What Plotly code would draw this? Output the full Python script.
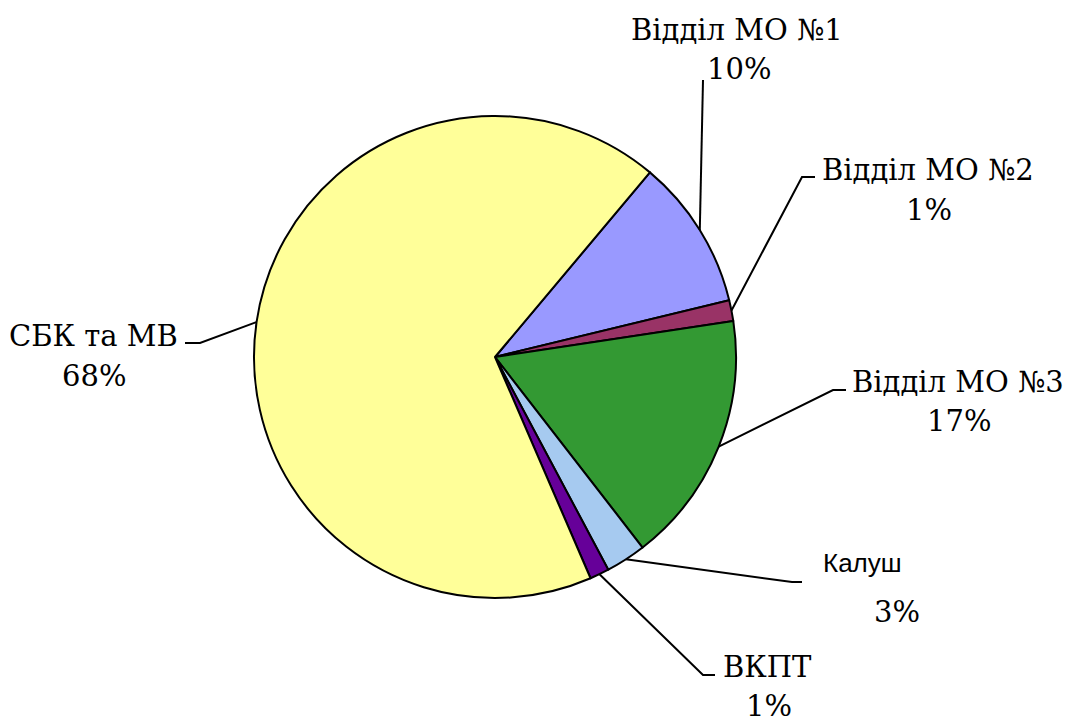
import math
import plotly.graph_objects as go

# ---- data ----
labels = ["Відділ МО №1", "Відділ МО №2", "Відділ МО №3", "Калуш", "ВКПТ", "СБК та МВ"]
values = [10.1, 1.4, 16.9, 2.7, 1.3, 67.6]
colors = ["#9999FF", "#993366", "#339933", "#A6CAF0", "#660099", "#FFFF99"]

# ---- layout constants ----
W, H = 1075, 718
CX, CY, R = 495, 357, 241
START = 40  # degrees clockwise from 12 o'clock
SERIF = "DejaVu Serif"
SANS = "Liberation Sans, Arial, DejaVu Sans, sans-serif"
FS = 29

# label placement (pixel coords): name centre, percent centre, elbow, line end, font
label_layout = [
    dict(name=(737, 30), pct=(739, 69), elbow=None, end=(703, 80), font=SERIF, size=FS),
    dict(name=(928, 170), pct=(929, 210), elbow=(802, 177), end=(815, 177), font=SERIF, size=FS),
    dict(name=(958, 382), pct=(959, 421), elbow=(833, 390), end=(846, 390), font=SERIF, size=FS),
    dict(name=(862, 563), pct=(897, 612), elbow=(792, 582), end=(802, 582), font=SANS, size=26),
    dict(name=(767, 667), pct=(769, 706), elbow=(703, 675), end=(715, 675), font=SERIF, size=FS),
    dict(name=(93, 336), pct=(94, 376), elbow=(200, 343), end=(185, 343), font=SERIF, size=FS),
]

fig = go.Figure()
fig.add_trace(go.Pie(
    labels=labels, values=values, sort=False, direction="clockwise", rotation=START,
    marker=dict(colors=colors, line=dict(color="#000000", width=2)),
    textinfo="none", hoverinfo="label+percent", showlegend=False,
    domain=dict(x=[(CX - R) / W, (CX + R) / W], y=[(H - CY - R) / H, (H - CY + R) / H]),
))

# invisible cartesian frame in pixel units for leader lines
fig.add_trace(go.Scatter(x=[0, W], y=[0, H], mode="markers", marker=dict(opacity=0),
                         hoverinfo="skip", showlegend=False))

total = sum(values)
cum = 0.0
shapes = []
annotations = []
for lab, v, ly in zip(labels, values, label_layout):
    mid = START + (cum + v / 2) / total * 360
    cum += v
    a = math.radians(mid)
    px, py = CX + R * math.sin(a), CY - R * math.cos(a)
    pts = [(px, py)]
    if ly["elbow"]:
        pts.append(ly["elbow"])
    pts.append(ly["end"])
    path = "M " + " L ".join(f"{x:.1f},{y:.1f}" for x, y in pts)
    shapes.append(dict(type="path", path=path, xref="x", yref="y",
                       line=dict(color="#000000", width=2)))
    pct = f"{round(v / total * 100)}%"
    annotations.append(dict(x=ly["name"][0], y=ly["name"][1], xref="x", yref="y", text=lab,
                            showarrow=False, xanchor="center", yanchor="middle",
                            font=dict(family=ly["font"], size=ly["size"], color="#000000")))
    annotations.append(dict(x=ly["pct"][0], y=ly["pct"][1], xref="x", yref="y", text=pct,
                            showarrow=False, xanchor="center", yanchor="middle",
                            font=dict(family=SERIF, size=FS, color="#000000")))

fig.update_layout(
    width=W, height=H, margin=dict(l=0, r=0, t=0, b=0),
    paper_bgcolor="#FFFFFF", plot_bgcolor="rgba(0,0,0,0)",
    font=dict(family=SERIF),
    xaxis=dict(range=[0, W], visible=False, fixedrange=True),
    yaxis=dict(range=[H, 0], visible=False, fixedrange=True),
    shapes=shapes, annotations=annotations,
)

fig.write_html("out.html", config={"displayModeBar": False},
               post_script="document.body.style.margin='0';document.body.style.padding='0';")
